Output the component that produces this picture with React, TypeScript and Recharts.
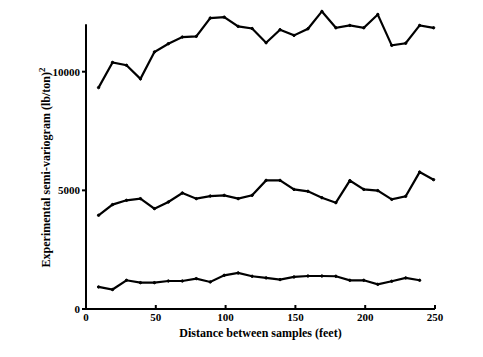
import { CartesianGrid, Line, LineChart, ReferenceLine, XAxis, YAxis } from "recharts";

// lag distance (feet) of each experimental point
const LAGS = [9, 19, 29, 39, 49, 59, 69, 79, 89, 99, 109, 119, 129, 139, 149, 159, 169, 179, 189, 199, 209, 219, 229, 239, 249];

// semi-variogram values, (lb/ton)^2
const UPPER = [9330, 10390, 10270, 9700, 10830, 11180, 11460, 11490, 12260, 12300, 11910, 11820, 11220, 11770, 11530, 11810, 12540, 11850, 11950, 11850, 12410, 11110, 11200, 11950, 11850];
const MIDDLE = [3950, 4400, 4580, 4650, 4230, 4510, 4890, 4650, 4760, 4790, 4650, 4790, 5420, 5420, 5040, 4960, 4690, 4480, 5410, 5040, 4990, 4620, 4750, 5770, 5450];
const LOWER = [930, 820, 1210, 1110, 1110, 1180, 1180, 1280, 1140, 1420, 1520, 1380, 1310, 1240, 1350, 1390, 1390, 1380, 1210, 1210, 1040, 1170, 1310, 1210];

const X_TICKS = [0, 50, 100, 150, 200, 250];
const Y_TICKS = [0, 5000, 10000];

const FONT = "'Liberation Serif', 'Times New Roman', serif";

const data = LAGS.map((lag, i) => ({
  lag,
  upper: UPPER[i],
  middle: MIDDLE[i],
  lower: LOWER[i],
}));

const tickStyle = { fontFamily: FONT, fontSize: 11, fontWeight: 700, fill: "#000" };
const dotStyle = { r: 1.2, fill: "#000", stroke: "#000", strokeWidth: 1 };

function YTitle({ viewBox }: any) {
  const x = viewBox.x + 24;
  const y = viewBox.y + viewBox.height / 2 + 8;
  return (
    <text
      x={x}
      y={y}
      transform={`rotate(-90, ${x}, ${y})`}
      textAnchor="middle"
      fontFamily={FONT}
      fontSize={12}
      fontWeight={700}
      fill="#000"
    >
      Experimental semi-variogram (lb/ton)
      <tspan dy={-5} fontSize={9}>2</tspan>
    </text>
  );
}

export default function App() {
  return (
    <LineChart
      width={467}
      height={340}
      data={data}
      margin={{ top: 2, right: 40, left: 18, bottom: 9 }}
      style={{ background: "#fff" }}
    >
      <CartesianGrid stroke="none" />
      <XAxis
        dataKey="lag"
        type="number"
        domain={[0, 250]}
        ticks={X_TICKS}
        height={30}
        stroke="#000"
        strokeWidth={2}
        tickSize={-4}
        tickMargin={8}
        tick={tickStyle}
        label={{
          value: "Distance between samples (feet)",
          position: "insideBottom",
          offset: 2,
          style: { fontFamily: FONT, fontSize: 12, fontWeight: 700, fill: "#000" },
        }}
      />
      <YAxis
        type="number"
        domain={[0, 12600]}
        ticks={Y_TICKS}
        width={60}
        axisLine={false}
        stroke="#000"
        strokeWidth={2}
        tickSize={4}
        tickMargin={2}
        tick={tickStyle}
        label={{ content: YTitle }}
      />
      {/* axis line stops at 12000 like the original plot */}
      <ReferenceLine
        segment={[{ x: 0, y: 0 }, { x: 0, y: 12000 }]}
        stroke="#000"
        strokeWidth={2}
      />
      <Line
        dataKey="upper"
        type="linear"
        stroke="#000"
        strokeWidth={2.2}
        dot={dotStyle}
        isAnimationActive={false}
      />
      <Line
        dataKey="middle"
        type="linear"
        stroke="#000"
        strokeWidth={2.2}
        dot={dotStyle}
        isAnimationActive={false}
      />
      <Line
        dataKey="lower"
        type="linear"
        stroke="#000"
        strokeWidth={2.2}
        dot={dotStyle}
        isAnimationActive={false}
      />
    </LineChart>
  );
}
